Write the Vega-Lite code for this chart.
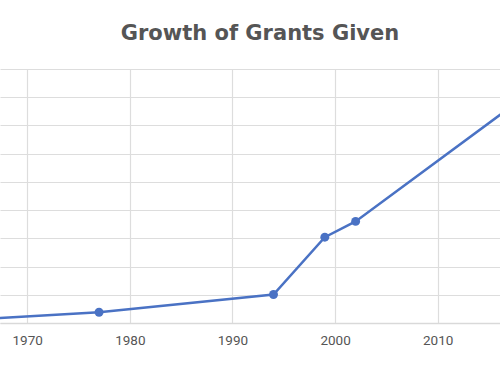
{
  "$schema": "https://vega.github.io/schema/vega-lite/v6.json",
  "width": 500,
  "height": 254,
  "autosize": {"type": "none"},
  "padding": {"top": 69, "left": 0, "right": 0, "bottom": 52},
  "background": "white",
  "title": {
    "text": "Growth of Grants Given",
    "font": "DejaVu Sans",
    "fontSize": 21,
    "fontWeight": "bold",
    "color": "#555555",
    "anchor": "middle",
    "dx": 10,
    "offset": 25
  },
  "config": {
    "view": {"stroke": null},
    "axis": {"gridColor": "#dddddd", "gridWidth": 1.2}
  },
  "data": {
    "values": [
      {"year": 1962, "grants": 0.07},
      {"year": 1977, "grants": 0.38},
      {"year": 1994, "grants": 1.01},
      {"year": 1999, "grants": 3.04},
      {"year": 2002, "grants": 3.6},
      {"year": 2020, "grants": 8.43}
    ]
  },
  "encoding": {
    "x": {
      "field": "year",
      "type": "quantitative",
      "scale": {"domain": [1967.35, 2016.07], "nice": false, "zero": false},
      "axis": {
        "title": null,
        "values": [1970, 1980, 1990, 2000, 2010],
        "format": "d",
        "ticks": false,
        "domain": true,
        "domainColor": "#d9d9d9",
        "domainWidth": 1.5,
        "labelFont": "Roboto",
        "labelFontSize": 13.5,
        "labelColor": "#555555",
        "labelPadding": 10
      }
    },
    "y": {
      "field": "grants",
      "type": "quantitative",
      "scale": {"domain": [0, 9], "nice": false},
      "axis": {
        "title": null,
        "values": [0, 1, 2, 3, 4, 5, 6, 7, 8, 9],
        "labels": false,
        "ticks": false,
        "domain": false
      }
    }
  },
  "layer": [
    {"mark": {"type": "line", "color": "#4a72c4", "strokeWidth": 2.5, "clip": true}},
    {
      "transform": [{"filter": "datum.year > 1970 && datum.year < 2015"}],
      "mark": {"type": "point", "filled": true, "opacity": 1, "color": "#4a72c4", "size": 80, "clip": true}
    }
  ]
}
